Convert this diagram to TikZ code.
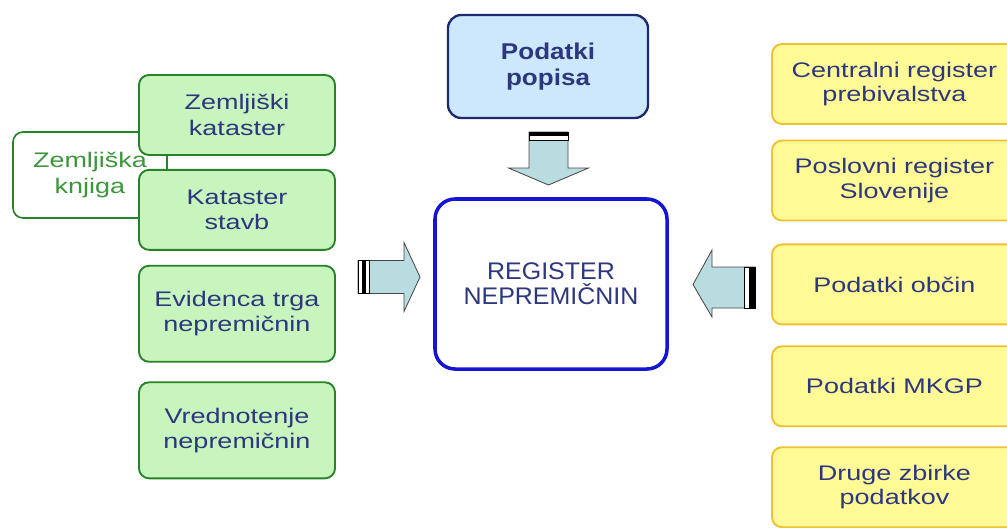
\documentclass[tikz,border=0pt]{standalone}
\usepackage{fontspec}
\setmainfont{Liberation Sans}
\newfontfamily\boxfont{Liberation Sans}[FakeStretch=1.28]
\newfontfamily\regfont{Liberation Sans}[FakeStretch=1.04]
\newfontfamily\popisfont{Liberation Sans}[FakeStretch=1.14]
\usetikzlibrary{positioning}

\definecolor{txtnavy}{RGB}{45,55,125}
\definecolor{knjgreen}{RGB}{60,150,60}
\definecolor{grfill}{RGB}{200,245,190}
\definecolor{grline}{RGB}{40,130,40}
\definecolor{yefill}{RGB}{255,250,150}
\definecolor{yeline}{RGB}{238,192,50}
\definecolor{blfill}{RGB}{205,232,252}
\definecolor{blline}{RGB}{30,40,110}
\definecolor{regline}{RGB}{20,20,210}
\definecolor{arfill}{RGB}{185,220,225}
\definecolor{arline}{RGB}{70,70,70}

\begin{document}
\begin{tikzpicture}[
  x=0.03cm, y=-0.03cm,
  greenbox/.style={draw=grline, fill=grfill, line width=1.6pt, rounded corners=3mm,
                   minimum width=5.88cm, minimum height=2.4cm, inner sep=0pt, align=center,
                   text=txtnavy, font=\boxfont\fontsize{18}{21.5}\selectfont},
  knjbox/.style={draw=grline, fill=white, line width=1.4pt, rounded corners=3mm,
                 minimum width=4.62cm, minimum height=2.58cm, inner sep=0pt, align=center,
                 text=knjgreen, font=\boxfont\fontsize{18}{22}\selectfont},
  yellowbox/.style={draw=yeline, fill=yefill, line width=1.6pt, rounded corners=3mm,
                    minimum width=7.35cm, minimum height=2.4cm, inner sep=0pt, align=center,
                    text=txtnavy, font=\boxfont\fontsize{18}{21}\selectfont},
  popisbox/.style={draw=blline, fill=blfill, line width=2pt, rounded corners=4mm,
                   minimum width=6cm, minimum height=3.09cm, inner sep=0pt, align=center,
                   text=txtnavy, font=\popisfont\bfseries\fontsize{19.5}{22}\selectfont},
  regbox/.style={draw=regline, fill=white, line width=3pt, rounded corners=6mm,
                 minimum width=6.96cm, minimum height=5.1cm, inner sep=0pt, align=center,
                 text=txtnavy, font=\regfont\fontsize{20.5}{21.5}\selectfont},
  blockarr/.style={draw=arline, fill=arfill, line width=0.7pt, line join=miter},
  tailbar/.style={draw=black, fill=white, line width=0.7pt},
]
\useasboundingbox (0,0) rectangle (1007,527);

% === Left group ===
\node[knjbox] (knjiga) at (90,175) {Zemljiška\\knjiga};
\node[greenbox] (kataster) at (237,115) {Zemljiški\\kataster};
\node[greenbox, below=0.39cm of kataster] (stavbe) {Kataster\\stavb};
\node[greenbox, minimum height=2.88cm, below=0.42cm of stavbe] (trg) {Evidenca trga\\nepremičnin};
\node[greenbox, minimum height=2.88cm, below=0.56cm of trg] (vrednost) {Vrednotenje\\nepremičnin};

% === Centre ===
\node[popisbox] (popis) at (548,66.5) {Podatki\\popisa};
\node[regbox] (register) at (551,284) {REGISTER\\NEPREMIČNIN};

% === Right group ===
\node[yellowbox] (crp) at (894.5,84) {Centralni register\\prebivalstva};
\node[yellowbox, below=0.44cm of crp] (prs) {Poslovni register\\Slovenije};
\node[yellowbox, below=0.66cm of prs] (obcine) {Podatki občin};
\node[yellowbox, below=0.6cm of obcine] (mkgp) {Podatki MKGP};
\node[yellowbox, below=0.57cm of mkgp] (druge) {Druge zbirke\\podatkov};

% === Block arrows ===
\coordinate (inW) at (358,277);
\coordinate (inN) at (548.5,132);
\coordinate (inE) at (755,287.5);

\draw[blockarr, shift={(inW)}] (0,-16.5) -- (46,-16.5) -- (46,-34.5) -- (62,0)
  -- (46,34.5) -- (46,16.5) -- (0,16.5) -- cycle;
\draw[tailbar, shift={(inW)}] (0,-16.5) rectangle (11,16.5);
\fill[black, shift={(inW)}] (4,-16.5) rectangle (8,16.5);

\draw[blockarr, shift={(inN)}] (-19.5,0) -- (19.5,0) -- (19.5,36) -- (40,36)
  -- (0,53) -- (-40,36) -- (-19.5,36) -- cycle;
\draw[tailbar, shift={(inN)}] (-19.5,0) rectangle (19.5,8);
\fill[black, shift={(inN)}] (-19.5,0) rectangle (19.5,4);

\draw[blockarr, shift={(inE)}] (0,-20.5) -- (-43,-20.5) -- (-43,-37.5) -- (-62,-3)
  -- (-43,29.5) -- (-43,20.5) -- (0,20.5) -- cycle;
\draw[tailbar, shift={(inE)}] (-11,-20.5) rectangle (0,20.5);
\fill[black, shift={(inE)}] (-6,-20.5) rectangle (0,20.5);

\end{tikzpicture}
\end{document}
